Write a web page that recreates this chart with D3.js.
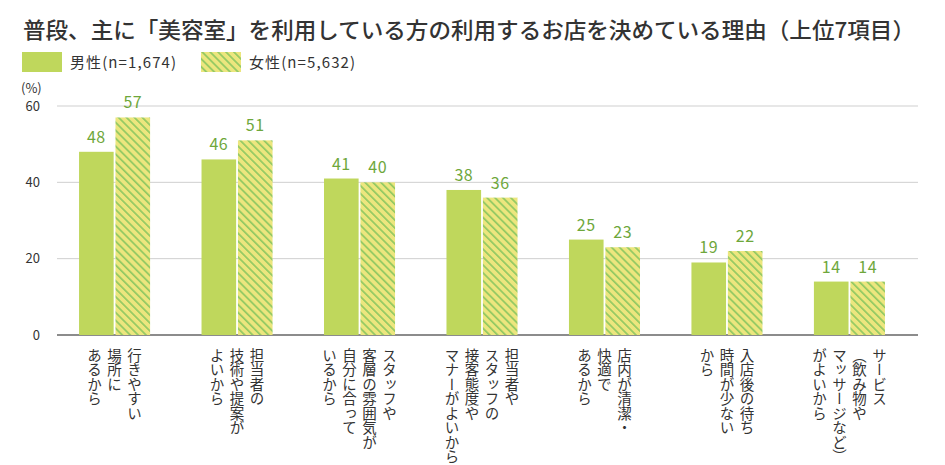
<!DOCTYPE html>
<html>
<head>
<meta charset="utf-8">
<script src="https://cdn.jsdelivr.net/npm/d3@7"></script>
<style>
  body { margin: 0; background: #fff; }
  svg { font-family: "Noto Sans CJK JP", "Noto Sans", sans-serif; }
</style>
</head>
<body>
<div id="chart"></div>
<script>
"use strict"

// 美容室の利用理由 (男女別 grouped bars)

var title = "普段、主に「美容室」を利用している方の利用するお店を決めている理由（上位7項目）"
var seriesNames = ["男性(n=1,674)", "女性(n=5,632)"]
var categories = [
  ["行きやすい", "場所に", "あるから"],
  ["担当者の", "技術や提案が", "よいから"],
  ["スタッフや", "客層の雰囲気が", "自分に合って", "いるから"],
  ["担当者や", "スタッフの", "接客態度や", "マナーがよいから"],
  ["店内が清潔・", "快適で", "あるから"],
  ["入店後の待ち", "時間が少ない", "から"],
  ["サービス", "（飲み物や", "マッサージなど）", "がよいから"]
]
var male = [48, 46, 41, 38, 25, 19, 14]
var female = [57, 51, 40, 36, 23, 22, 14]
var yTicks = [0, 20, 40, 60]

var width = 945
var height = 465
var plotLeft = 57
var plotRight = 918
var plotTop = 106
var plotBottom = 335

var green = "#bfd75c"
var labelColor = "#6ea73b"
var textColor = "#333"

var svg = d3.select("#chart").append("svg")
  .attr("width", width)
  .attr("height", height)

var defs = svg.append("defs")
var pat = defs.append("pattern")
  .attr("id", "stripe")
  .attr("patternUnits", "userSpaceOnUse")
  .attr("width", 5.6)
  .attr("height", 5.6)
  .attr("patternTransform", "rotate(-45)")
pat.append("rect")
  .attr("width", 5.6).attr("height", 5.6)
  .attr("fill", "#ece67e")
pat.append("rect")
  .attr("width", 1.7).attr("height", 5.6)
  .attr("fill", "#90c862")

var fills = [green, "url(#stripe)"]

// title
svg.append("text")
  .attr("x", 23)
  .attr("y", 38)
  .attr("font-size", 22)
  .attr("font-weight", 500)
  .attr("fill", textColor)
  .attr("textLength", 892)
  .attr("lengthAdjust", "spacingAndGlyphs")
  .text(title)

// legend
var legendX = [22, 201]
var leg = svg.append("g").selectAll("g")
  .data(seriesNames)
  .enter().append("g")
  .attr("transform", function(d, i) { return "translate(" + legendX[i] + ",52)" })
leg.append("rect")
  .attr("width", 40)
  .attr("height", 20)
  .attr("fill", function(d, i) { return fills[i] })
leg.append("text")
  .attr("x", 48)
  .attr("y", 15.5)
  .attr("font-size", 15)
  .attr("letter-spacing", 1.1)
  .attr("fill", textColor)
  .text(function(d) { return d })

svg.append("text")
  .attr("x", 21)
  .attr("y", 93)
  .attr("font-size", 13)
  .attr("fill", textColor)
  .text("(%)")

var y = d3.scaleLinear()
  .domain([0, 60])
  .range([plotBottom, plotTop])

var x0 = d3.scaleBand()
  .domain(d3.range(categories.length))
  .range([plotLeft, 907])
  .paddingInner(0.42)
  .paddingOuter(0.18)

var x1 = d3.scaleBand()
  .domain([0, 1])
  .range([0, x0.bandwidth()])
  .paddingInner(0.05)

// grid
var grid = svg.append("g").selectAll("g")
  .data(yTicks)
  .enter().append("g")
grid.append("line")
  .attr("x1", plotLeft)
  .attr("x2", plotRight)
  .attr("y1", function(d) { return y(d) })
  .attr("y2", function(d) { return y(d) })
  .attr("stroke", function(d) { return d === 0 ? "#666" : "#cfcfcf" })
  .attr("stroke-width", function(d) { return d === 0 ? 1.5 : 1 })
grid.append("text")
  .attr("x", 40)
  .attr("y", function(d) { return y(d) + 4.5 })
  .attr("text-anchor", "end")
  .attr("font-size", 13)
  .attr("fill", textColor)
  .text(function(d) { return d })

// bars
var groups = svg.append("g").selectAll("g")
  .data(categories.map(function(c, i) { return [male[i], female[i]] }))
  .enter().append("g")
  .attr("transform", function(d, i) { return "translate(" + x0(i) + ",0)" })

groups.selectAll("rect")
  .data(function(d) { return d })
  .enter().append("rect")
  .attr("x", function(d, i) { return x1(i) })
  .attr("width", x1.bandwidth())
  .attr("y", function(d) { return y(d) })
  .attr("height", function(d) { return y(0) - y(d) })
  .attr("fill", function(d, i) { return fills[i] })

groups.selectAll("text.value")
  .data(function(d) { return d })
  .enter().append("text")
  .attr("class", "value")
  .attr("x", function(d, i) { return x1(i) + x1.bandwidth() / 2 })
  .attr("y", function(d) { return y(d) - 9 })
  .attr("text-anchor", "middle")
  .attr("font-size", 16)
  .attr("letter-spacing", 0.5)
  .attr("fill", labelColor)
  .text(function(d) { return d })

// vertical category labels, columns right to left
var colGap = 20
var lab = svg.append("g").selectAll("g")
  .data(categories)
  .enter().append("g")
  .attr("transform", function(d, i) {
    return "translate(" + (x0(i) + x0.bandwidth() / 2) + ",348)"
  })
lab.selectAll("text")
  .data(function(d) { return d })
  .enter().append("text")
  .attr("x", function(d, j) {
    var n = d3.select(this.parentNode).datum().length
    return ((n - 1) / 2 - j) * colGap
  })
  .attr("y", 0)
  .style("writing-mode", "vertical-rl")
  .attr("font-size", 14.5)
  .attr("fill", textColor)
  .text(function(d) { return d })
</script>
</body>
</html>
